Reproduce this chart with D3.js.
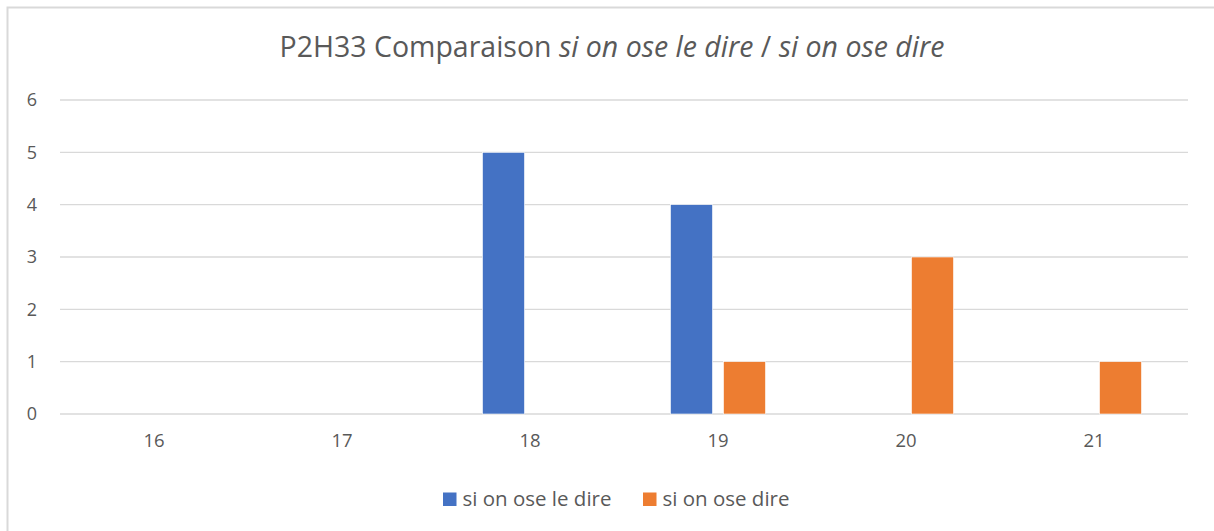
<!DOCTYPE html>
<html>
<head>
<meta charset="utf-8">
<script src="https://cdn.jsdelivr.net/npm/d3@7"></script>
<style>
  html, body { margin: 0; padding: 0; background: #fff; }
  svg { display: block; font-family: "Open Sans", "Noto Sans", sans-serif; }
</style>
</head>
<body>
<svg id="chart" width="1214" height="531"></svg>
<script>
// Ages on the category axis
const categories = ["16", "17", "18", "19", "20", "21"];
// Series names (legend order)
const seriesNames = ["si on ose le dire", "si on ose dire"];
// Counts per age for each series
const seriesLeDire = [0, 0, 5, 4, 0, 0];
const seriesDire = [0, 0, 0, 1, 3, 1];
// Value axis ticks
const yTicks = [0, 1, 2, 3, 4, 5, 6];

const colors = ["#4472C4", "#ED7D31"];
const seriesValues = [seriesLeDire, seriesDire];

const svg = d3.select("#chart");
const W = 1214, H = 531;

// Chart frame
svg.append("rect")
  .attr("x", 7.5).attr("y", 7.5)
  .attr("width", W + 10).attr("height", H + 10)
  .attr("fill", "#fff").attr("stroke", "#D9D9D9").attr("stroke-width", 2);

const plot = { left: 60, right: 1188, top: 100, bottom: 414 };

const x0 = d3.scaleBand().domain(categories).range([plot.left, plot.right]).padding(0);
const groupW = 95;
const x1 = d3.scaleBand().domain(seriesNames)
  .range([(x0.bandwidth() - groupW) / 2, (x0.bandwidth() + groupW) / 2])
  .paddingInner(0.2075).paddingOuter(0);
const y = d3.scaleLinear().domain([0, 6]).range([plot.bottom, plot.top]);

// Horizontal gridlines
svg.append("g").selectAll("line").data(yTicks).join("line")
  .attr("x1", plot.left).attr("x2", plot.right)
  .attr("y1", d => y(d)).attr("y2", d => y(d))
  .attr("stroke", "#D9D9D9").attr("stroke-width", 1.3);

// Value axis labels
const yAxis = svg.append("g")
  .attr("transform", `translate(${plot.left - 23},0)`)
  .call(d3.axisLeft(y).tickValues(yTicks).tickSize(0).tickPadding(0).tickFormat(d3.format("d")));
yAxis.select(".domain").remove();
yAxis.selectAll("text")
  .attr("fill", "#595959").attr("font-size", 18)
  .attr("font-family", "\"Open Sans\", sans-serif");

// Category axis labels
const xAxis = svg.append("g")
  .attr("transform", `translate(0,${plot.bottom})`)
  .call(d3.axisBottom(x0).tickSize(0).tickPadding(20));
xAxis.select(".domain").remove();
xAxis.selectAll("text")
  .attr("fill", "#595959").attr("font-size", 18.5)
  .attr("font-family", "\"Open Sans\", sans-serif");

// Bars
const groups = svg.append("g").selectAll("g").data(categories).join("g")
  .attr("transform", d => `translate(${x0(d)},0)`);
groups.selectAll("rect")
  .data((c, i) => seriesNames.map((s, k) => ({ s, k, v: seriesValues[k][i] })))
  .join("rect")
  .filter(d => d.v > 0)
  .attr("x", d => x1(d.s))
  .attr("width", x1.bandwidth())
  .attr("y", d => y(d.v))
  .attr("height", d => y(0) - y(d.v))
  .attr("fill", d => colors[d.k])
  .attr("stroke", "#fff").attr("stroke-width", 0.6);

// Title with italic series names
const title = svg.append("text")
  .attr("x", W / 2 + 5).attr("y", 57)
  .attr("text-anchor", "middle")
  .attr("fill", "#595959")
  .attr("font-size", 24);
title.append("tspan").text("P2H33 Comparaison ");
title.append("tspan").attr("font-style", "italic").text("si on ose le dire");
title.append("tspan").text(" / ");
title.append("tspan").attr("font-style", "italic").text("si on ose dire");
// Scale the title so it spans the same width as the plotted heading
const tw = title.node().getComputedTextLength();
title.attr("font-size", 24 * 665 / tw);

// Legend
const legend = svg.append("g").attr("transform", "translate(0,499)");
const legendX = [443, 643];
const items = legend.selectAll("g").data(seriesNames).join("g")
  .attr("transform", (d, i) => `translate(${legendX[i]},0)`);
items.append("rect")
  .attr("x", 0).attr("y", -6.5).attr("width", 13.5).attr("height", 13.5)
  .attr("fill", (d, i) => colors[i]);
items.append("text")
  .attr("x", 19.5).attr("y", 6.5)
  .attr("fill", "#595959").attr("font-size", 17)
  .text(d => d);
// Fit legend text to its measured span
const first = items.select("text").node();
const lw = first.getComputedTextLength();
items.selectAll("text").attr("font-size", 17 * 149 / lw);
</script>
</body>
</html>
